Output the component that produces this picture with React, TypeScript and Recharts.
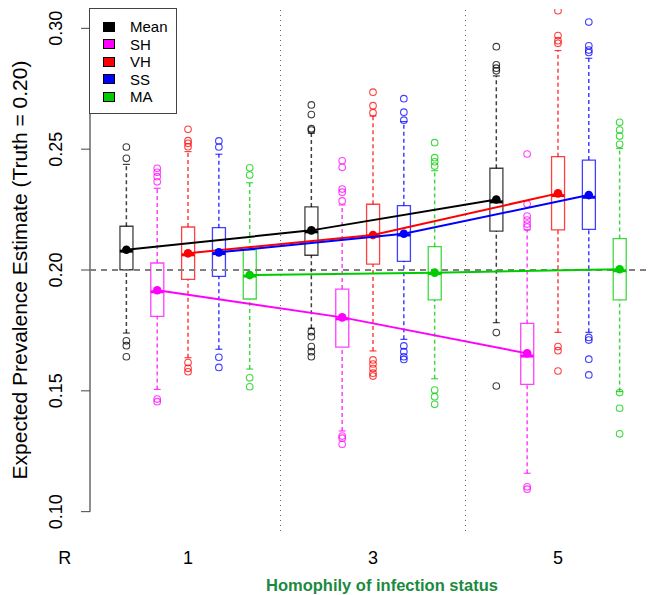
import {
  ComposedChart,
  Bar,
  Cell,
  Scatter,
  ErrorBar,
  XAxis,
  YAxis,
  ReferenceLine,
  Label,
} from "recharts";

// ---- data ----
const GROUPS = ["1", "3", "5"];
const GROUP_AT = [3, 9, 15];
const SERIES = ["Mean", "SH", "VH", "SS", "MA"];
const COLORS = ["#000000", "#FF00FF", "#FF0000", "#0000FF", "#00CC00"];

// rows = series, columns = groups 1 / 3 / 5
const Q1 = [
  [0.2001, 0.2061, 0.2161],
  [0.1808, 0.1681, 0.1527],
  [0.1961, 0.2024, 0.2166],
  [0.1974, 0.2036, 0.2168],
  [0.188, 0.1876, 0.1876],
];
const Q3 = [
  [0.2181, 0.2261, 0.2421],
  [0.2029, 0.1921, 0.1779],
  [0.2178, 0.2272, 0.2469],
  [0.2175, 0.2266, 0.2455],
  [0.2083, 0.2097, 0.213],
];
const MEDIAN = [
  [0.2078, 0.2158, 0.2282],
  [0.191, 0.1798, 0.1644],
  [0.2063, 0.214, 0.2308],
  [0.2068, 0.2145, 0.2301],
  [0.1975, 0.1985, 0.1997],
];
const AVG = [
  [0.2084, 0.2164, 0.2292],
  [0.1916, 0.1804, 0.1655],
  [0.2069, 0.2145, 0.2317],
  [0.2073, 0.215, 0.231],
  [0.1979, 0.1989, 0.2003],
];
const WHISK_LO = [
  [0.1739, 0.1759, 0.1782],
  [0.1506, 0.1334, 0.1159],
  [0.1637, 0.1665, 0.1742],
  [0.1672, 0.1713, 0.1742],
  [0.159, 0.155, 0.1497],
];
const WHISK_HI = [
  [0.2437, 0.2566, 0.2803],
  [0.2338, 0.2269, 0.2166],
  [0.249, 0.2637, 0.2908],
  [0.2479, 0.2614, 0.2876],
  [0.2361, 0.2411, 0.2503],
];
const OUTLIERS = [
  [
    [0.2462, 0.2509, 0.1707, 0.1687, 0.1641],
    [0.2683, 0.2643, 0.2585, 0.2579, 0.1745, 0.1724, 0.1683, 0.1662, 0.1641],
    [0.2924, 0.2849, 0.2835, 0.2824, 0.1741, 0.152],
  ],
  [
    [0.2421, 0.2404, 0.2386, 0.2365, 0.1466, 0.1455],
    [0.2452, 0.2425, 0.2335, 0.2322, 0.2286, 0.1313, 0.1304, 0.1279],
    [0.248, 0.2273, 0.2223, 0.2207, 0.219, 0.2178, 0.1103, 0.1093],
  ],
  [
    [0.2582, 0.2535, 0.2524, 0.251, 0.1617, 0.1593, 0.1579],
    [0.2736, 0.268, 0.2651, 0.1628, 0.1611, 0.1592, 0.1573, 0.1561],
    [0.3073, 0.297, 0.2949, 0.2938, 0.1683, 0.1666, 0.1582],
  ],
  [
    [0.2534, 0.2509, 0.1639, 0.1597],
    [0.2709, 0.2653, 0.262, 0.1686, 0.1662, 0.1641, 0.163],
    [0.3026, 0.2928, 0.291, 0.29, 0.1721, 0.171, 0.1631, 0.1566],
  ],
  [
    [0.2423, 0.2393, 0.1554, 0.1517],
    [0.2527, 0.2465, 0.2448, 0.243, 0.1503, 0.1476, 0.1444],
    [0.2611, 0.2579, 0.2554, 0.252, 0.1493, 0.1428, 0.1322],
  ],
];

const X_TICKS = [-1, 3, 9, 15];
const X_LABELS = ["R", ...GROUPS];
const Y_TICKS = [0.1, 0.15, 0.2, 0.25, 0.3];
const TRUTH = 0.2;
const DIVIDERS = [6, 12];

const FONT = "'Liberation Sans', Arial, Helvetica, sans-serif";

const posOf = (s: number, g: number) => GROUP_AT[g] + s - 2;

// box table for the Bar (floating range q1..q3)
const boxRows = SERIES.flatMap((_, s) =>
  GROUPS.map((_, g) => ({ x: posOf(s, g), box: [Q1[s][g], Q3[s][g]], s }))
);

const whiskerRows = (s: number) =>
  GROUPS.flatMap((_, g) => [
    { x: posOf(s, g), y: Q3[s][g], err: [0, WHISK_HI[s][g] - Q3[s][g]] },
    { x: posOf(s, g), y: Q1[s][g], err: [Q1[s][g] - WHISK_LO[s][g], 0] },
  ]);

const markRows = (s: number) =>
  GROUPS.flatMap((_, g) => [
    { x: posOf(s, g), y: WHISK_HI[s][g], kind: "staple" },
    { x: posOf(s, g), y: WHISK_LO[s][g], kind: "staple" },
    { x: posOf(s, g), y: MEDIAN[s][g], kind: "median" },
    ...OUTLIERS[s][g].map((v) => ({ x: posOf(s, g), y: v, kind: "out" })),
  ]);

const meanRows = (s: number) =>
  GROUPS.map((_, g) => ({ x: posOf(s, g), y: AVG[s][g] }));

function YTick(props: any) {
  const { x, y, payload } = props;
  return (
    <text
      transform={`translate(${x - 17}, ${y}) rotate(-90)`}
      textAnchor="middle"
      fontSize={18}
      fontFamily={FONT}
      fill="#000"
    >
      {Number(payload.value).toFixed(2)}
    </text>
  );
}

function XTick(props: any) {
  const { x, y, payload } = props;
  const i = X_TICKS.indexOf(payload.value);
  return (
    <text
      x={x}
      y={y}
      dy="0.71em"
      textAnchor="middle"
      fontSize={18}
      fontFamily={FONT}
      fill="#000"
    >
      {X_LABELS[i] ?? payload.value}
    </text>
  );
}

function Legendbox() {
  return (
    <div
      style={{
        position: "absolute",
        left: 89,
        top: 8,
        width: 88,
        height: 106,
        boxSizing: "border-box",
        border: "1.5px solid #444",
        background: "#fff",
        fontFamily: FONT,
        fontSize: 15,
        paddingTop: 9,
      }}
    >
      {SERIES.map((name, i) => (
        <div
          key={name}
          style={{ display: "flex", alignItems: "center", height: 17.5 }}
        >
          <span
            style={{
              display: "inline-block",
              width: 12,
              height: 10,
              marginLeft: 13,
              boxSizing: "border-box",
              border: "1px solid #000",
              background: COLORS[i],
            }}
          />
          <span style={{ marginLeft: 15, lineHeight: 1 }}>{name}</span>
        </div>
      ))}
    </div>
  );
}

export default function App() {
  return (
    <div
      style={{
        position: "relative",
        width: 657,
        height: 595,
        marginLeft: -8,
        marginTop: -8,
        background: "#fff",
      }}
    >
      <ComposedChart
        width={657}
        height={595}
        data={boxRows}
        margin={{ top: 9, right: 1, bottom: 0, left: 0 }}
      >
        <XAxis
          dataKey="x"
          type="number"
          domain={[-0.18, 18.18]}
          allowDataOverflow
          ticks={X_TICKS}
          interval={0}
          height={64}
          axisLine={false}
          tickLine={false}
          tickSize={0}
          tickMargin={20}
          tick={<XTick />}
          label={
            <Label
              content={(p: any) => {
                const vb = p.viewBox || {};
                return (
                  <text
                    x={(vb.x ?? 90) + (vb.width ?? 566) / 2 + 9}
                    y={591}
                    textAnchor="middle"
                    fontSize={16.5}
                    fontWeight="bold"
                    fontFamily={FONT}
                    fill="#1b8a3f"
                  >
                    Homophily of infection status
                  </text>
                );
              }}
            />
          }
        />
        <YAxis
          type="number"
          domain={[0.092, 0.308]}
          allowDataOverflow
          ticks={Y_TICKS}
          interval={0}
          width={90}
          axisLine={false}
          tickLine={{ stroke: "#444" }}
          tickSize={9}
          tick={<YTick />}
          label={
            <Label
              content={(p: any) => {
                const vb = p.viewBox || {};
                const cy = (vb.y ?? 9) + (vb.height ?? 522) / 2;
                return (
                  <text
                    transform={`translate(27, ${cy}) rotate(-90)`}
                    textAnchor="middle"
                    fontSize={21}
                    fontFamily={FONT}
                    fill="#000"
                  >
                    Expected Prevalence Estimate (Truth = 0.20)
                  </text>
                );
              }}
            />
          }
        />

        {/* y axis line only from first to last tick */}
        <ReferenceLine
          segment={[
            { x: -0.18, y: Y_TICKS[0] },
            { x: -0.18, y: Y_TICKS[Y_TICKS.length - 1] },
          ]}
          stroke="#444"
          strokeWidth={1.2}
        />
        {DIVIDERS.map((d) => (
          <ReferenceLine
            key={d}
            x={d}
            stroke="#666"
            strokeDasharray="1 4"
          />
        ))}
        <ReferenceLine
          y={TRUTH}
          stroke="#808080"
          strokeWidth={2}
          strokeDasharray="6 5"
        />

        <Bar dataKey="box" barSize={13} fill="none" isAnimationActive={false}>
          {boxRows.map((r, i) => (
            <Cell
              key={i}
              fill="none"
              stroke={COLORS[r.s]}
              strokeOpacity={0.75}
              strokeWidth={1.3}
            />
          ))}
        </Bar>

        {SERIES.map((name, s) => (
          <Scatter
            key={"w" + name}
            data={whiskerRows(s)}
            dataKey="y"
            isAnimationActive={false}
            shape={() => <g />}
          >
            <ErrorBar
              dataKey="err"
              direction="y"
              width={0}
              stroke={COLORS[s]}
              strokeOpacity={0.75}
              strokeDasharray="4 3"
              isAnimationActive={false}
            />
          </Scatter>
        ))}

        {SERIES.map((name, s) => (
          <Scatter
            key={"m" + name}
            data={markRows(s)}
            dataKey="y"
            isAnimationActive={false}
            shape={(p: any) => {
              const kind = p.payload?.kind;
              if (kind === "staple")
                return (
                  <line
                    x1={p.cx - 3.5}
                    x2={p.cx + 3.5}
                    y1={p.cy}
                    y2={p.cy}
                    stroke={COLORS[s]}
                    strokeOpacity={0.75}
                    strokeWidth={1.2}
                  />
                );
              if (kind === "median")
                return (
                  <line
                    x1={p.cx - 6.5}
                    x2={p.cx + 6.5}
                    y1={p.cy}
                    y2={p.cy}
                    stroke={COLORS[s]}
                    strokeWidth={3}
                  />
                );
              return (
                <circle
                  cx={p.cx}
                  cy={p.cy}
                  r={3.3}
                  fill="none"
                  stroke={COLORS[s]}
                  strokeOpacity={0.75}
                  strokeWidth={1.1}
                />
              );
            }}
          />
        ))}

        {SERIES.map((name, s) => (
          <Scatter
            key={"a" + name}
            name={name}
            data={meanRows(s)}
            dataKey="y"
            isAnimationActive={false}
            line={{ stroke: COLORS[s], strokeWidth: 2 }}
            lineType="joint"
            shape={(p: any) => (
              <circle cx={p.cx} cy={p.cy} r={4.3} fill={COLORS[s]} />
            )}
          />
        ))}
      </ComposedChart>
      <Legendbox />
    </div>
  );
}
